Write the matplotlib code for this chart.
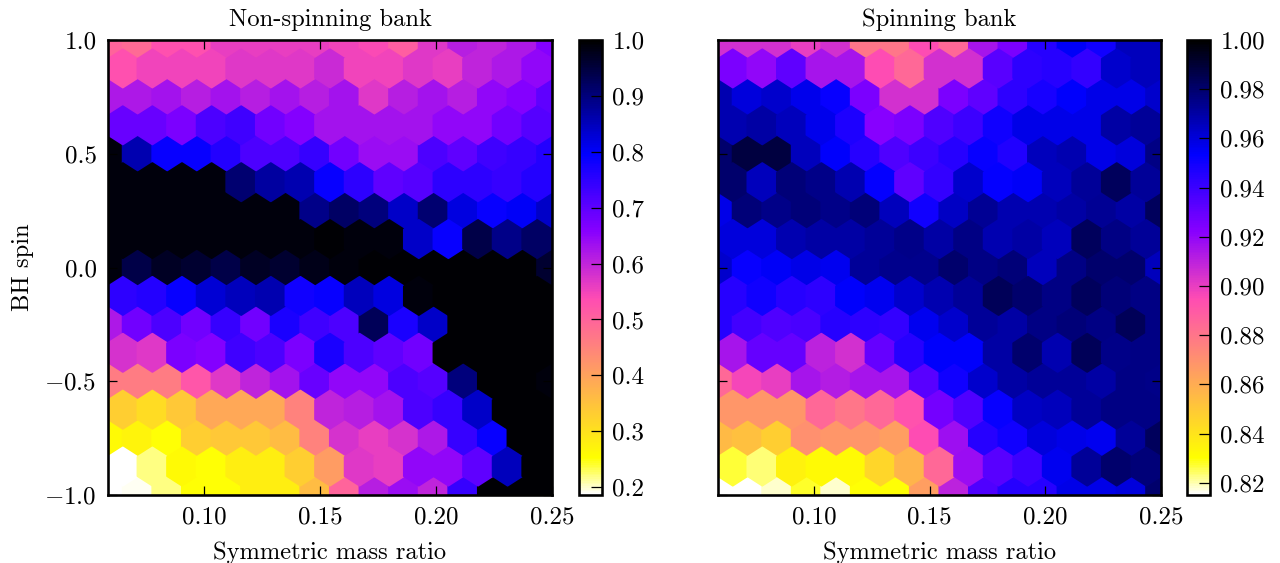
# hexbin maps of fitting factor over mass ratio and BH spin, for two template banks
import numpy as np
import matplotlib
matplotlib.use('Agg')
import matplotlib.pyplot as plt

plt.rcParams['font.family'] = 'serif'
plt.rcParams['font.serif'] = ['cmr10']
plt.rcParams['mathtext.fontset'] = 'cm'
plt.rcParams['axes.formatter.use_mathtext'] = True
plt.rcParams['font.size'] = 12

eta_min = 0.0586
eta_max = 0.25
gridsize = 15

# rows go from top of the plot (spin = 1) down to the bottom (spin = -1)
nonspin_rows = [
    [.50, .49, .53, .53, .56, .56, .56, .56, .55, .54, .51, .57, .61, .60, .62, .66],
    [.53, .55, .55, .55, .57, .57, .57, .59, .55, .55, .57, .56, .60, .62, .65],
    [.62, .62, .63, .61, .63, .61, .63, .61, .63, .57, .61, .63, .61, .65, .66, .70],
    [.69, .69, .67, .72, .73, .68, .66, .63, .63, .63, .63, .65, .65, .68, .71],
    [.99, .86, .79, .79, .76, .72, .72, .74, .68, .64, .64, .72, .70, .73, .74, .76],
    [.99, .99, .99, .99, .91, .87, .86, .79, .75, .70, .71, .75, .75, .74, .76],
    [.99, .99, .99, .99, .99, .99, .99, .89, .92, .90, .84, .91, .82, .79, .80, .84],
    [.99, .99, .99, .99, .99, .99, .99, .995, .99, .99, .84, .79, .94, .89, .92],
    [.99, .94, .97, .96, .94, .97, .96, .98, .99, .995, .995, .995, .995, .995, .995, .96],
    [.75, .76, .79, .83, .85, .86, .78, .79, .85, .82, .99, .995, .995, .995, .995],
    [.62, .68, .72, .68, .74, .68, .77, .73, .72, .93, .77, .84, .995, .995, .995, .995],
    [.58, .57, .67, .66, .73, .72, .67, .77, .72, .70, .68, .995, .995, .995, .995],
    [.46, .46, .46, .52, .57, .60, .63, .69, .65, .65, .72, .71, .90, .995, .995, .99],
    [.33, .31, .34, .39, .39, .39, .45, .60, .61, .63, .72, .74, .84, .995, .995],
    [.26, .27, .25, .33, .34, .34, .36, .45, .58, .56, .58, .62, .74, .79, .995, .995],
    [.186, .22, .26, .25, .28, .28, .33, .41, .57, .56, .65, .65, .70, .85, .995],
    [.186, .19, .22, .25, .25, .28, .28, .36, .50, .61, .64, .60, .74, .995, .995, .995],
]

spin_rows = [
    [.905, .905, .905, .900, .905, .880, .880, .895, .885, .915, .925, .945, .955, .950, .966, .966],
    [.925, .920, .932, .915, .915, .895, .885, .905, .905, .933, .943, .945, .942, .963, .966],
    [.968, .960, .963, .957, .952, .925, .905, .905, .925, .932, .943, .948, .954, .958, .958, .963],
    [.968, .970, .966, .957, .947, .922, .925, .935, .940, .950, .958, .958, .958, .970, .972],
    [.980, .988, .988, .966, .954, .945, .935, .940, .945, .952, .946, .966, .968, .958, .960, .976],
    [.980, .966, .978, .975, .968, .953, .932, .942, .963, .953, .955, .966, .972, .983, .972],
    [.958, .978, .975, .978, .975, .978, .966, .950, .964, .973, .968, .968, .970, .973, .970, .983],
    [.960, .960, .968, .970, .970, .972, .975, .970, .976, .968, .970, .966, .983, .976, .972],
    [.963, .952, .955, .958, .956, .972, .974, .974, .980, .976, .978, .966, .976, .980, .980, .966],
    [.945, .950, .945, .943, .954, .956, .963, .968, .972, .984, .980, .976, .983, .978, .976],
    [.945, .938, .935, .937, .945, .943, .942, .956, .963, .972, .970, .976, .978, .976, .984, .976],
    [.915, .930, .930, .910, .905, .930, .945, .954, .954, .970, .980, .968, .984, .975, .976],
    [.885, .897, .900, .915, .912, .915, .915, .933, .950, .963, .970, .972, .972, .970, .976, .975],
    [.868, .868, .868, .885, .880, .885, .893, .927, .935, .952, .964, .966, .972, .976, .976],
    [.855, .853, .848, .870, .868, .868, .865, .895, .917, .945, .950, .960, .958, .956, .972, .983],
    [.827, .823, .835, .832, .832, .845, .857, .885, .918, .933, .940, .956, .972, .980, .978],
    [.815, .815, .818, .828, .818, .830, .830, .865, .910, .935, .945, .945, .958, .958, .960, .980],
]

eta_ticks = [0.10, 0.15, 0.20, 0.25]
eta_labels = ['0.10', '0.15', '0.20', '0.25']
spin_ticks = [-1.0, -0.5, 0.0, 0.5, 1.0]
spin_labels = ['$-1.0$', '$-0.5$', '0.0', '0.5', '1.0']

cbar1_ticks = [0.2, 0.3, 0.4, 0.5, 0.6, 0.7, 0.8, 0.9, 1.0]
cbar1_labels = ['0.2', '0.3', '0.4', '0.5', '0.6', '0.7', '0.8', '0.9', '1.0']
cbar2_ticks = [0.82, 0.84, 0.86, 0.88, 0.90, 0.92, 0.94, 0.96, 0.98, 1.00]
cbar2_labels = ['0.82', '0.84', '0.86', '0.88', '0.90', '0.92', '0.94', '0.96', '0.98', '1.00']

# turn the rows into points sitting on the hexbin lattice
def lattice_points(rows):
    sx = (eta_max - eta_min) / gridsize
    n = len(rows)
    xs, ys, cs = [], [], []
    for k, row in enumerate(rows):
        y = 1.0 - 2.0 * k / (n - 1)
        off = 0.0 if len(row) == gridsize + 1 else 0.5
        for i, c in enumerate(row):
            xs.append(eta_min + (i + off) * sx)
            ys.append(y)
            cs.append(c)
    return np.array(xs), np.array(ys), np.array(cs)

W, H = 1280.0, 563.0
fig = plt.figure(figsize=(W / 150, H / 150), dpi=150)

def panel(x0, x1, cx0, cx1, rows, vmin, vmax, title, cticks, clabels, show_y):
    ax = fig.add_axes([x0 / W, (H - 495) / H, (x1 - x0) / W, 455 / H])
    x, y, c = lattice_points(rows)
    hb = ax.hexbin(x, y, C=c, gridsize=gridsize, extent=(eta_min, eta_max, -1, 1),
                   cmap='gnuplot2_r', vmin=vmin, vmax=vmax)
    ax.set_xlim(eta_min, eta_max)
    ax.set_ylim(-1, 1)
    ax.set_xticks(eta_ticks, eta_labels)
    ax.set_yticks(spin_ticks, spin_labels if show_y else [])
    ax.tick_params(direction='in', top=True, right=True, length=4.5, width=0.6, pad=5.5)
    for s in ax.spines.values():
        s.set_linewidth(1.25)
    ax.set_title(title, fontsize=11.8, pad=6.5)
    ax.set_xlabel('Symmetric mass ratio', fontsize=11.75, labelpad=6)
    if show_y:
        ax.set_ylabel('BH spin', fontsize=11.8, labelpad=5)
    cax = fig.add_axes([cx0 / W, (H - 495) / H, (cx1 - cx0) / W, 455 / H])
    cb = fig.colorbar(hb, cax=cax)
    cb.set_ticks(cticks, labels=clabels)
    cb.minorticks_off()
    cax.tick_params(direction='in', length=5.5, width=0.6, pad=5)
    cb.outline.set_linewidth(1.25)
    return ax

panel(108, 552, 579, 602, nonspin_rows, 0.186, 1.0, 'Non-spinning bank', cbar1_ticks, cbar1_labels, True)
panel(718, 1161, 1187, 1210, spin_rows, 0.815, 1.0, 'Spinning bank', cbar2_ticks, cbar2_labels, False)

plt.savefig('out.png', dpi=150)
